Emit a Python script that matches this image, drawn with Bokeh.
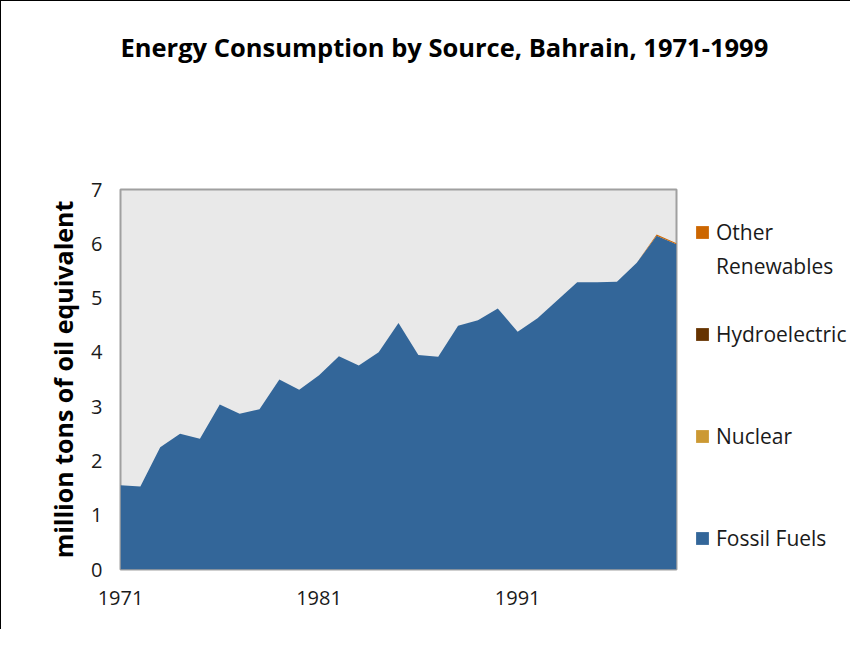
from bokeh.plotting import figure
from bokeh.models import ColumnDataSource, FixedTicker, Legend, LegendItem, Range1d, Title
from bokeh.embed import file_html
from bokeh.resources import INLINE

years = [1971, 1972, 1973, 1974, 1975, 1976, 1977, 1978, 1979, 1980,
         1981, 1982, 1983, 1984, 1985, 1986, 1987, 1988, 1989, 1990,
         1991, 1992, 1993, 1994, 1995, 1996, 1997, 1998, 1999]
fossil_fuels = [1.55, 1.53, 2.25, 2.50, 2.41, 3.04, 2.87, 2.95, 3.50, 3.31,
                3.58, 3.93, 3.76, 4.00, 4.54, 3.95, 3.92, 4.49, 4.59, 4.81,
                4.38, 4.63, 4.96, 5.29, 5.29, 5.30, 5.65, 6.15, 5.99]
nuclear = [0, 0, 0, 0, 0, 0, 0, 0, 0, 0, 0, 0, 0, 0, 0, 0, 0, 0, 0, 0,
           0, 0, 0, 0, 0, 0, 0, 0, 0]
hydroelectric = [0, 0, 0, 0, 0, 0, 0, 0, 0, 0, 0, 0, 0, 0, 0, 0, 0, 0, 0, 0,
                 0, 0, 0, 0, 0, 0, 0, 0, 0]
other_renewables = [0, 0, 0, 0, 0, 0, 0, 0, 0, 0, 0, 0, 0, 0, 0, 0, 0, 0, 0, 0,
                    0, 0, 0, 0, 0, 0, 0, 0.02, 0.02]
x_ticks = [1971, 1981, 1991]
y_ticks = [0, 1, 2, 3, 4, 5, 6, 7]
series_names = ["fossil", "nuclear", "hydro", "other"]
series_labels = ["Fossil Fuels", "Nuclear", "Hydroelectric", "Other"]
other_label_line2 = "Renewables"
series_colors = ["#336699", "#cc9933", "#663300", "#cc6600"]
title_text = "Energy Consumption by Source, Bahrain, 1971-1999"
y_label = "million tons of oil equivalent"

FONT = "Open Sans"
TEXT = "#1a1a1a"

source = ColumnDataSource(dict(year=years, fossil=fossil_fuels, nuclear=nuclear,
                               hydro=hydroelectric, other=other_renewables))

p = figure(frame_width=556, frame_height=380,
           x_range=Range1d(1971, 1999), y_range=Range1d(0, 7),
           output_backend="svg", toolbar_location=None, tools="",
           min_border_left=119, min_border_top=188,
           min_border_right=160, min_border_bottom=60)
p.styles = {"border-left": "1px solid #000000", "border-top": "1px solid #000000"}

p.background_fill_color = "#e9e9e9"
p.border_fill_color = "white"
p.outline_line_color = "#a0a0a0"
p.outline_line_width = 2
p.grid.visible = False

renderers = p.varea_stack(series_names, x="year", source=source, color=series_colors)
# empty, invisible renderer: carries the second label line and the legend's empty rows
blank = p.varea(x=[], y1=[], y2=[], fill_alpha=0)

for ax in (p.xaxis[0], p.yaxis[0]):
    ax.axis_line_color = None
    ax.major_tick_line_color = None
    ax.minor_tick_line_color = None
    ax.major_tick_out = 0
    ax.major_tick_in = 0
    ax.major_label_text_font = FONT
    ax.major_label_text_font_size = "20px"
    ax.major_label_text_color = TEXT

p.xaxis.ticker = FixedTicker(ticks=x_ticks)
p.yaxis.ticker = FixedTicker(ticks=y_ticks)
p.xaxis.major_label_standoff = 21
p.yaxis.major_label_standoff = 18
p.yaxis.axis_label = y_label
p.yaxis.axis_label_text_font = FONT
p.yaxis.axis_label_text_font_style = "bold"
p.yaxis.axis_label_text_font_size = "25px"
p.yaxis.axis_label_text_color = "#000000"
p.yaxis.axis_label_standoff = 8

# spacer between the frame and the main title
p.add_layout(Title(text=" ", text_font_size="10px", standoff=108), "above")
p.title.text = title_text
p.title.align = "left"
p.title.text_font = FONT
p.title.text_font_style = "bold"
p.title.text_font_size = "25.5px"
p.title.text_color = "#000000"
p.title.standoff = 10

def row_item(label, renderer):
    return LegendItem(label=label, renderers=[renderer])

legend_items = [
    row_item(series_labels[3], renderers[3]),
    row_item(other_label_line2, blank),
    row_item(" ", blank),
    row_item(series_labels[2], renderers[2]),
    row_item(" ", blank),
    row_item(" ", blank),
    row_item(series_labels[1], renderers[1]),
    row_item(" ", blank),
    row_item(" ", blank),
    row_item(series_labels[0], renderers[0]),
]
legend = Legend(items=legend_items, location=(18, 16), orientation="vertical",
                glyph_width=16, glyph_height=16, label_standoff=6, label_height=30,
                spacing=4, padding=0, margin=0, border_line_color=None,
                background_fill_alpha=0, label_text_font=FONT,
                label_text_font_size="21px", label_text_color=TEXT)
p.add_layout(legend, "right")

open("out.html", "w").write(file_html(p, INLINE))
